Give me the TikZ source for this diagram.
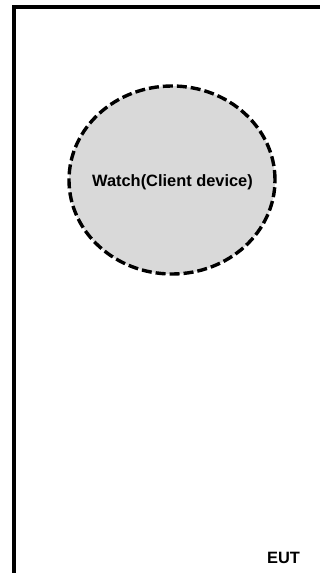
\documentclass[tikz,border=0pt]{standalone}
\usepackage{fontspec}
\setmainfont{Liberation Sans}
\usetikzlibrary{shapes.geometric}
\tikzset{
  frameline/.style={line width=4.4pt,draw=black},
  devicecircle/.style={ellipse,draw=black,fill=black!15,line width=3.4pt,dash pattern=on 10pt off 4pt,minimum width=206pt,minimum height=188pt,inner sep=0pt,outer sep=0pt},
  labeltext/.style={font=\fontsize{16.4pt}{18pt}\selectfont\bfseries,text=black,inner sep=0pt}
}
\begin{document}
\begin{tikzpicture}[x=1pt,y=-1pt]
\useasboundingbox (0,0) rectangle (320,573);
\coordinate (fbl) at (14,573);
\coordinate (ftl) at (14,7);
\coordinate (ftr) at (320,7);
\draw[frameline] (fbl) -- (ftl) -- (ftr);
\node[devicecircle] (watch) at (172,180) {};
\node[labeltext] (watchlabel) at (172.5,182.5) {Watch(Client device)};
\node[labeltext] (eut) at (283.5,558) {EUT};
\end{tikzpicture}
\end{document}
